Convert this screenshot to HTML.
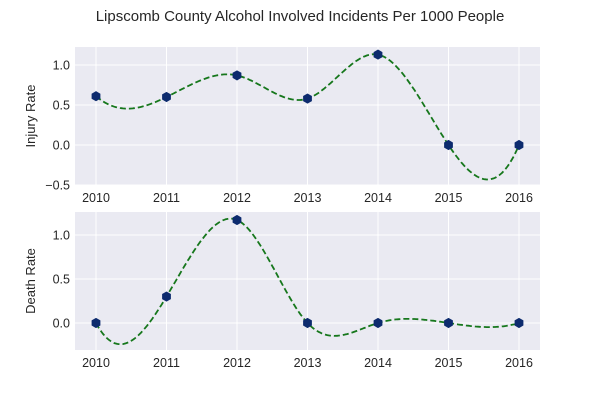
<!DOCTYPE html>
<html><head><meta charset="utf-8"><style>
body{margin:0;background:#fff;}
svg text{font-family:"Liberation Sans",sans-serif;fill:#262626;}
</style></head><body>
<svg id="c" width="600" height="400">
<text x="300" y="21" font-size="15" text-anchor="middle">Lipscomb County Alcohol Involved Incidents Per 1000 People</text>
</svg>
<script>
const years=[2010,2011,2012,2013,2014,2015,2016];
const injuryRate=[0.61,0.60,0.87,0.58,1.13,0.0,0.0];
const deathRate=[0.0,0.30,1.17,0.0,0.0,0.0,0.0];
const injuryTicks=[-0.5,0.0,0.5,1.0];
const deathTicks=[0.0,0.5,1.0];
const NS="http://www.w3.org/2000/svg";
const svg=document.getElementById('c');
function mk(t,a,p){const e=document.createElementNS(NS,t);for(const k in a)e.setAttribute(k,a[k]);(p||svg).appendChild(e);return e;}
function solve(A,b){const n=b.length;for(let i=0;i<n;i++){let p=i;for(let r=i+1;r<n;r++)if(Math.abs(A[r][i])>Math.abs(A[p][i]))p=r;[A[i],A[p]]=[A[p],A[i]];[b[i],b[p]]=[b[p],b[i]];
 for(let r=i+1;r<n;r++){const f=A[r][i]/A[i][i];for(let c=i;c<n;c++)A[r][c]-=f*A[i][c];b[r]-=f*b[i];}}
 const x=new Array(n).fill(0);for(let i=n-1;i>=0;i--){let s=b[i];for(let c=i+1;c<n;c++)s-=A[i][c]*x[c];x[i]=s/A[i][i];}return x;}
function spline(xs,ys){const n=xs.length;const A=[],b=[];
 for(let i=0;i<n;i++){A.push(new Array(n).fill(0));b.push(0);}
 A[0][0]=1;A[0][1]=-2;A[0][2]=1;
 for(let i=1;i<n-1;i++){A[i][i-1]=1;A[i][i]=4;A[i][i+1]=1;b[i]=6*(ys[i+1]-2*ys[i]+ys[i-1]);}
 A[n-1][n-3]=1;A[n-1][n-2]=-2;A[n-1][n-1]=1;
 const M=solve(A,b);
 return x=>{let j=Math.min(n-2,Math.max(0,Math.floor(x-xs[0])));const a=xs[j+1]-x,c=x-xs[j];
  return M[j]*a*a*a/6+M[j+1]*c*c*c/6+(ys[j]-M[j]/6)*a+(ys[j+1]-M[j+1]/6)*c;};}
function panel(name,top,bottom,vmin,vmax,vals,ticks,ylabel){
 const L=75,R=540;
 const xs=v=>96+(v-2010)*70.5;
 const ys=v=>bottom-(v-vmin)/(vmax-vmin)*(bottom-top);
 const g=mk('g',{});
 mk('rect',{x:L,y:top,width:R-L,height:bottom-top,fill:'#eaeaf2',},g);
 years.forEach(y=>{mk('line',{x1:xs(y),x2:xs(y),y1:top,y2:bottom,stroke:'#fff','stroke-width':1,},g);
  const t=mk('text',{x:xs(y),y:bottom+17,'font-size':12.5,'text-anchor':'middle',},g);t.textContent=y;});
 ticks.forEach(v=>{mk('line',{x1:L,x2:R,y1:ys(v),y2:ys(v),stroke:'#fff','stroke-width':1,},g);
  const t=mk('text',{x:L-5,y:ys(v)+4.5,'font-size':12.5,'text-anchor':'end',},g);t.textContent=(v<0?'\u2212'+Math.abs(v).toFixed(1):v.toFixed(1));});
 const yl=mk('text',{x:0,y:0,'font-size':13,'text-anchor':'middle',transform:`translate(35,${(top+bottom)/2}) rotate(-90)`,},g);yl.textContent=ylabel;
 const f=spline(years,vals);let d='';
 for(let x=2010;x<=2016.0001;x+=0.02){d+=(d?'L':'M')+xs(x).toFixed(1)+','+ys(f(x)).toFixed(1);}
 mk('path',{d,fill:'none',stroke:'#16771c','stroke-width':1.8,'stroke-dasharray':'6,3',},g);
 vals.forEach((v,i)=>{const cx=xs(years[i]),cy=ys(v),r=4.5;let p='';for(let k=0;k<6;k++){const a=Math.PI/3*k+Math.PI/6;p+=(cx+r*Math.cos(a)).toFixed(1)+','+(cy+r*Math.sin(a)).toFixed(1)+' ';}
  mk('polygon',{points:p,fill:'#0d2b6e',stroke:'#0d2b6e',},g);});
}
panel('injury',47,185,-0.5,1.225,injuryRate,injuryTicks,'Injury Rate');
panel('death',212,350,-0.307,1.261,deathRate,deathTicks,'Death Rate');
</script>
</body></html>
